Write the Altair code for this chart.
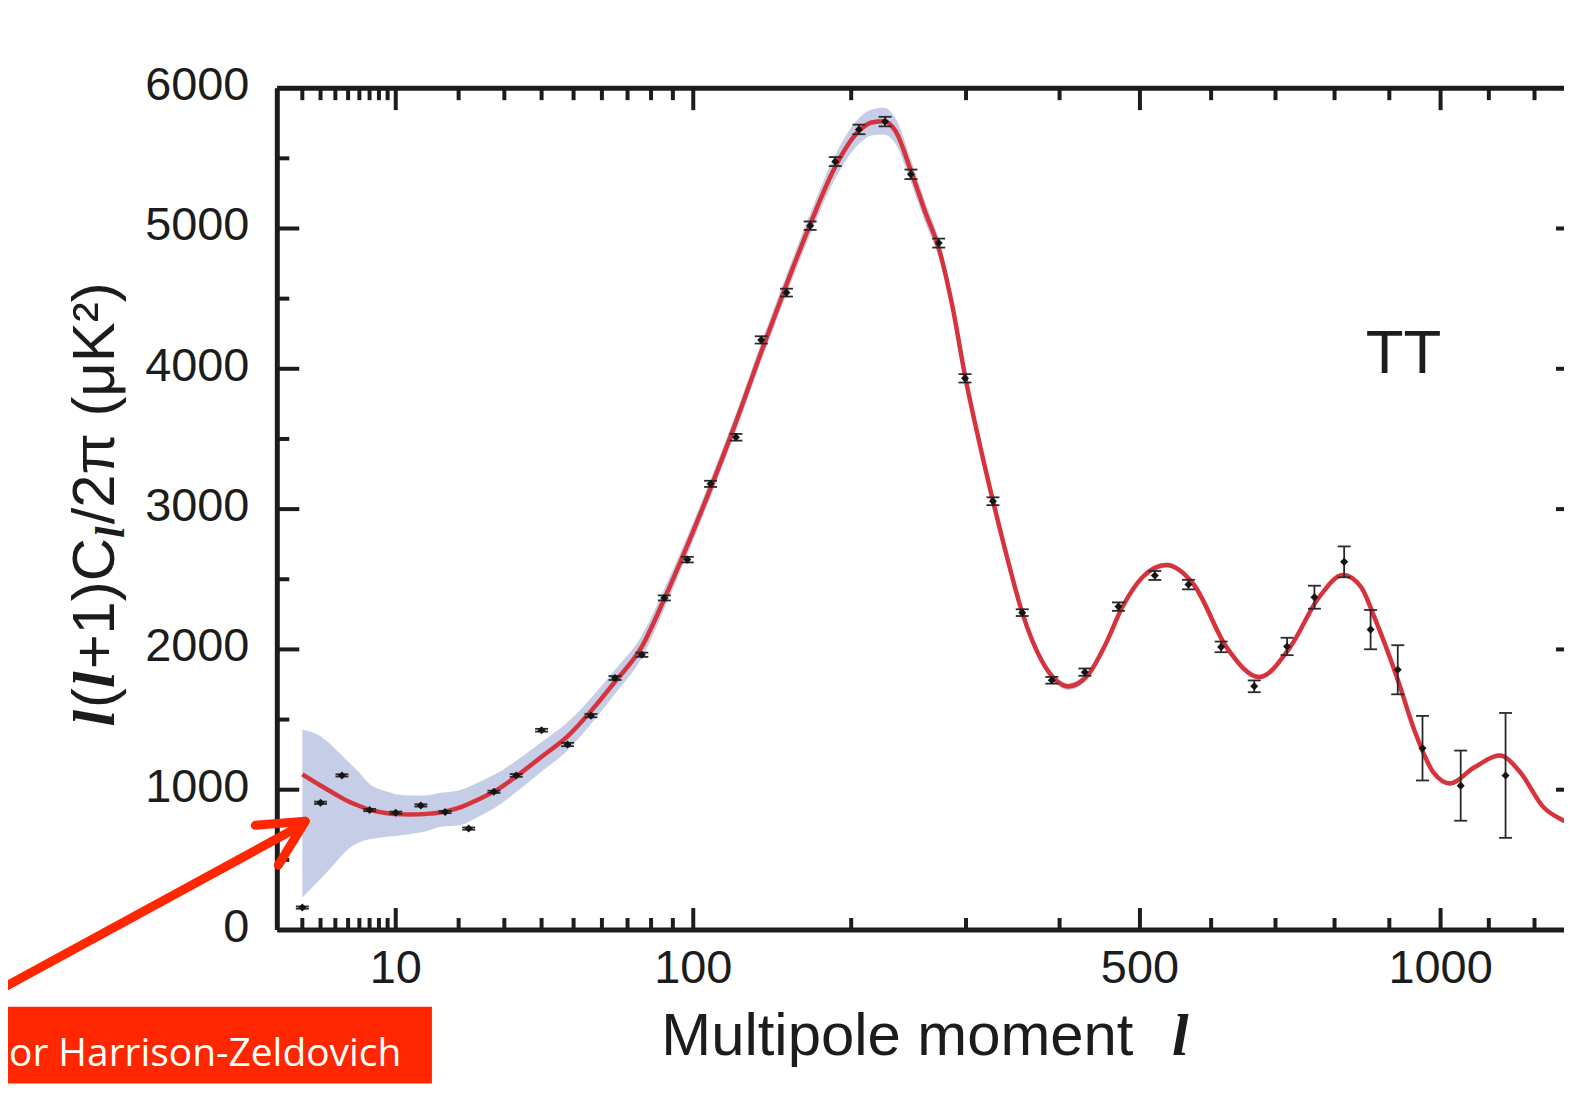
import altair as alt
import pandas as pd

# ---------------- data ----------------
# binned TT band powers
data_l = [2, 3, 4.5, 7, 10, 13.5, 17.5, 22, 27.5, 33, 40, 48, 56, 65, 76, 86, 97,
          109, 123, 138, 154, 170, 188, 206, 227, 249, 274, 299, 327, 358, 391, 430,
          472, 520, 567, 615, 666, 719, 765, 817, 865, 916, 964, 1041, 1136]
data_D = [160, 907, 1102, 855, 836, 888, 841, 723, 985, 1102, 1424, 1322, 1528, 1796,
          1962, 2367, 2640, 3180, 3512, 4206, 4543, 5020, 5477, 5706, 5762, 5386, 4896,
          3932, 3056, 2262, 1780, 1838, 2305, 2527, 2462, 2018, 1737, 2021, 2372, 2624,
          2141, 1855, 1296, 1029, 1102]
data_err = [8, 8, 8, 8, 8, 8, 8, 8, 8, 10, 10, 12, 12, 14, 15, 18, 20, 22, 24, 26, 28,
            30, 32, 34, 34, 34, 32, 30, 28, 24, 24, 26, 30, 32, 34, 38, 42, 62, 82, 110,
            140, 175, 230, 250, 445]

# best-fit model curve and its shaded band
curve_l = [2, 3, 4, 5, 6, 7, 8, 9, 10, 12, 14, 17, 20, 24, 28, 33, 40, 48, 56, 65, 76,
           86, 97, 109, 123, 138, 154, 170, 188, 206, 216, 226, 236, 249, 262, 274, 287,
           299, 313, 327, 342, 358, 379, 395, 410, 434, 455, 477, 504, 536, 575, 623, 674,
           724, 773, 815, 847, 874, 916, 950, 986, 1019, 1068, 1123, 1169, 1218, 1275, 1300]
curve_D = [1110, 1030, 968, 918, 884, 858, 842, 832, 826, 823, 826, 840, 870, 930, 995,
           1095, 1235, 1380, 1560, 1770, 2020, 2360, 2740, 3150, 3620, 4120, 4600, 5030,
           5440, 5695, 5755, 5765, 5690, 5410, 5110, 4860, 4440, 3950, 3480, 3060, 2650,
           2262, 1926, 1784, 1736, 1819, 2030, 2302, 2518, 2601, 2459, 2016, 1803, 2016,
           2372, 2530, 2447, 2210, 1784, 1405, 1121, 1045, 1156, 1244, 1121, 883, 765, 720]
band_lo = [232, 363, 480, 575, 625, 647, 658, 665, 670, 684, 700, 738, 745, 808, 877,
           983, 1130, 1280, 1468, 1684, 1940, 2288, 2674, 3088, 3558, 4055, 4530, 4954,
           5356, 5603, 5662, 5670, 5598, 5326, 5036, 4796, 4385, 3902, 3438, 3022, 2616,
           2232, 1898, 1758, 1711, 1794, 2008, 2280, 2498, 2582, 2441, 1998, 1787, 2000,
           2356, 2514, 2431, 2195, 1769, 1390, 1106, 1030, 1141, 1229, 1106, 868, 750, 705]
band_hi = [1430, 1381, 1290, 1200, 1120, 1040, 1005, 985, 968, 958, 958, 980, 995, 1052,
           1113, 1207, 1340, 1480, 1652, 1856, 2100, 2432, 2806, 3212, 3682, 4185, 4670,
           5106, 5524, 5787, 5848, 5860, 5782, 5494, 5184, 4924, 4495, 3998, 3522, 3098,
           2684, 2292, 1954, 1810, 1761, 1844, 2052, 2324, 2538, 2620, 2477, 2034, 1819,
           2032, 2388, 2546, 2463, 2225, 1799, 1420, 1136, 1060, 1171, 1259, 1136, 898, 780, 735]

x_major = [10, 100, 500, 1000]
x_minor = [2, 3, 4, 5, 6, 7, 8, 9, 20, 30, 40, 50, 60, 70, 80, 90,
           200, 300, 400, 600, 700, 800, 900, 1100, 1200]
y_major = [0, 1000, 2000, 3000, 4000, 5000, 6000]
y_minor = [500, 1500, 2500, 3500, 4500, 5500]
x_labels = [10, 100, 500, 1000]
y_labels = [0, 1000, 2000, 3000, 4000, 5000, 6000]

x_title = "Multipole moment"
ell = "l"
tt_label = "TT"
note_text = "or Harrison-Zeldovich"

# ---------------- layout ----------------
PLOT_W = 1304     # full frame width (the right edge is cropped like the reference)
VIEW_W = 1290
H = 844
PAD = {"left": 270, "top": 79, "right": 0, "bottom": 157}

INK = "#1c1c1c"
RED = "#d7333d"
BAND = "#c6cde6"
NOTE = "#ff2600"
SANS = "Liberation Sans"
SERIF = "Liberation Serif"

xs = alt.Scale(type="pow", exponent=0.4, domain=[1, 1300], range=[0, PLOT_W])
ys = alt.Scale(domain=[0, 6000], nice=False)


def X(field="l"):
    return alt.X(f"{field}:Q", scale=xs, axis=None)


def Y(field="D"):
    return alt.Y(f"{field}:Q", scale=ys, axis=None)


curve_df = pd.DataFrame({"l": curve_l, "D": curve_D, "lo": band_lo, "hi": band_hi})
pts_df = pd.DataFrame({"l": data_l, "D": data_D,
                       "lo": [d - e for d, e in zip(data_D, data_err)],
                       "hi": [d + e for d, e in zip(data_D, data_err)]})
one = pd.DataFrame({"k": [0]})

layers = []

layers.append(alt.Chart(curve_df).mark_area(color=BAND, interpolate="monotone").encode(
    x=X(), y=Y("lo"), y2="hi:Q"))
layers.append(alt.Chart(curve_df).mark_line(color=RED, strokeWidth=4.5,
                                            interpolate="monotone").encode(x=X(), y=Y()))

layers.append(alt.Chart(pts_df).mark_rule(color="#2a2a2a", strokeWidth=1.8).encode(
    x=X(), y=Y("lo"), y2="hi:Q"))
for f in ["lo", "hi"]:
    layers.append(alt.Chart(pts_df).mark_tick(orient="horizontal", size=13, thickness=1.8,
                                              color="#2a2a2a", opacity=1).encode(x=X(), y=Y(f)))
layers.append(alt.Chart(pts_df).mark_point(shape="diamond", filled=True, size=65,
                                           color="#151515", opacity=1).encode(x=X(), y=Y()))

# ---- frame (inward ticks on all sides) ----
FW = 5
for enc in [dict(x=alt.value(0), x2=alt.value(PLOT_W), y=alt.value(0)),
            dict(x=alt.value(0), x2=alt.value(PLOT_W), y=alt.value(H)),
            dict(x=alt.value(0), y=alt.value(0), y2=alt.value(H)),
            dict(x=alt.value(PLOT_W), y=alt.value(0), y2=alt.value(H))]:
    layers.append(alt.Chart(one).mark_rule(color=INK, strokeWidth=FW).encode(**enc))

TW = 4
for vals, ln in [(x_major, 22), (x_minor, 12)]:
    d = pd.DataFrame({"l": vals})
    layers.append(alt.Chart(d).mark_rule(color=INK, strokeWidth=TW).encode(
        x=X(), y=alt.value(H), y2=alt.value(H - ln)))
    layers.append(alt.Chart(d).mark_rule(color=INK, strokeWidth=TW).encode(
        x=X(), y=alt.value(0), y2=alt.value(ln)))
for vals, ln in [(y_major, 22), (y_minor, 12)]:
    d = pd.DataFrame({"D": vals})
    layers.append(alt.Chart(d).mark_rule(color=INK, strokeWidth=TW).encode(
        y=Y(), x=alt.value(0), x2=alt.value(ln)))
    layers.append(alt.Chart(d).mark_rule(color=INK, strokeWidth=TW).encode(
        y=Y(), x=alt.value(PLOT_W), x2=alt.value(PLOT_W - ln)))

# ---- tick labels (placed through the scales) ----
xl = pd.DataFrame({"l": x_labels, "t": [str(v) for v in x_labels]})
layers.append(alt.Chart(xl).mark_text(font=SANS, fontSize=47, color=INK, align="center",
                                      baseline="alphabetic").encode(
    x=X(), y=alt.value(H + 53), text="t:N"))
yl = pd.DataFrame({"D": y_labels, "t": [str(v) for v in y_labels]})
layers.append(alt.Chart(yl).mark_text(font=SANS, fontSize=47, color=INK, align="right",
                                      baseline="alphabetic", dy=12).encode(
    y=Y(), x=alt.value(-28), text="t:N"))

# ---- axis titles ----
layers.append(alt.Chart(one).mark_text(text=x_title, font=SANS, fontSize=60, color=INK,
                                       align="left", baseline="alphabetic").encode(
    x=alt.value(385), y=alt.value(969)))
layers.append(alt.Chart(one).mark_text(text=ell, font=SERIF, fontSize=60, fontStyle="italic",
                                       fontWeight="bold", color=INK, align="left",
                                       baseline="alphabetic").encode(
    x=alt.value(897), y=alt.value(969)))

# rotated y title built from pieces (mixed fonts)
em = {"(": .333, ")": .333, "+": .584, "1": .556, "C": .722, "/": .278, "2": .556,
      "π": .573, " ": .278, "μ": .576, "K": .667, "²": .333, "l": .278}
segs = [("l", True, 60, 0), ("(", False, 60, 0), ("l", True, 60, 0), ("+1)C", False, 60, 0),
        ("l", True, 42, 10), ("/2π (μK²)", False, 60, 0)]
yb = -163.5
ycur = 640.0
for txt, bi, fs, shift in segs:
    kw = dict(font=SERIF, fontStyle="italic", fontWeight="bold") if bi else dict(font=SANS)
    layers.append(alt.Chart(one).mark_text(text=txt, fontSize=fs, color=INK, angle=270,
                                           align="left", baseline="alphabetic", **kw).encode(
        x=alt.value(yb + shift), y=alt.value(ycur)))
    ycur -= sum(em.get(c, .55) for c in txt) * fs + (2 if bi else 0)

# "TT" label
layers.append(alt.Chart(one).mark_text(text=tt_label, font=SANS, fontSize=62, color=INK,
                                       align="center", baseline="alphabetic").encode(
    x=alt.value(1129), y=alt.value(286)))

# ---- red annotation (box + arrow) ----
layers.append(alt.Chart(one).mark_rect(color=NOTE).encode(
    x=alt.value(-278), x2=alt.value(155), y=alt.value(921), y2=alt.value(998)))
layers.append(alt.Chart(one).mark_text(text=note_text, font="Open Sans", fontSize=39,
                                       color="white", align="left", baseline="alphabetic").encode(
    x=alt.value(-269), y=alt.value(980)))
for (x1, y1, x2, y2) in [(-288, 909, 26, 738), (-22, 739, 28, 735), (28, 735, 1, 779)]:
    layers.append(alt.Chart(one).mark_rule(color=NOTE, strokeWidth=9, strokeCap="round").encode(
        x=alt.value(x1), y=alt.value(y1), x2=alt.value(x2), y2=alt.value(y2)))

chart = alt.layer(*layers).properties(
    width=VIEW_W, height=H, padding=PAD,
    autosize=alt.AutoSizeParams(type="none"), background="white",
).configure_view(stroke=None)

chart.save("out.html", embed_options={"renderer": "svg", "actions": False})
